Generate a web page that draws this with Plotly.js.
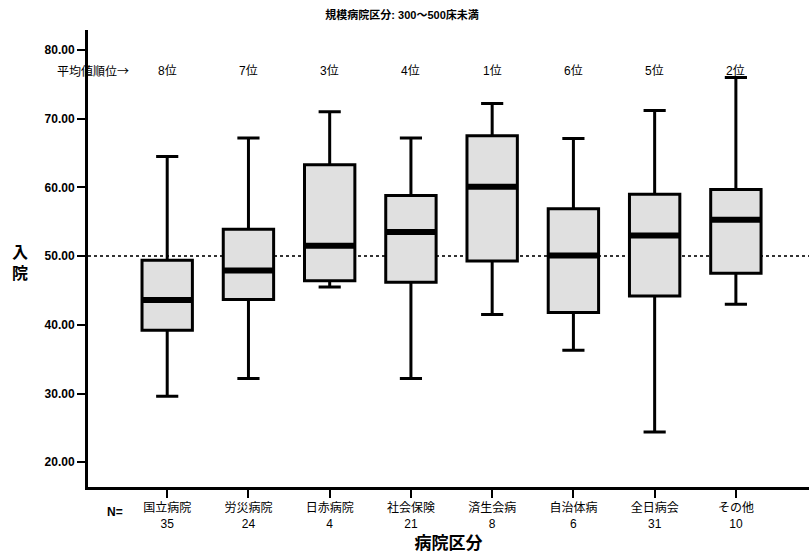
<!DOCTYPE html>
<html>
<head>
<meta charset="utf-8">
<script src="https://cdn.plot.ly/plotly-3.0.1.min.js"></script>
<style>html,body{margin:0;padding:0;background:#fff;}</style>
</head>
<body>
<div id="chart" style="width:809px;height:555px;"></div>
<script>
// ---- data ----
const categories = ["国立病院", "労災病院", "日赤病院", "社会保険", "済生会病", "自治体病", "全日病会", "その他"];
const counts = [35, 24, 4, 21, 8, 6, 31, 10];
const ranks = ["8位", "7位", "3位", "4位", "1位", "6位", "5位", "2位"];
const upperWhisker = [64.5, 67.2, 71.0, 67.2, 72.2, 67.1, 71.2, 76.0];
const q3Values     = [49.4, 53.9, 63.3, 58.8, 67.5, 56.9, 59.0, 59.7];
const medianValues = [43.6, 47.9, 51.5, 53.5, 60.1, 50.1, 53.0, 55.3];
const q1Values     = [39.2, 43.7, 46.4, 46.2, 49.3, 41.8, 44.2, 47.5];
const lowerWhisker = [29.6, 32.2, 45.5, 32.2, 41.5, 36.3, 24.4, 43.0];
const referenceLevel = 50;
const yTicks = [20, 30, 40, 50, 60, 70, 80];
const titleText = "規模病院区分: 300～500床未満";
const rankHeader = "平均値順位→";

const FONT = "Liberation Sans, Arial, 'Noto Sans CJK JP', sans-serif";
const CJK = "'Noto Sans CJK JP', sans-serif";
const idx = categories.map((c, i) => i);
const BOXW = 0.62;

const trace = {
  type: "box",
  x: idx,
  q1: q1Values,
  median: medianValues,
  q3: q3Values,
  lowerfence: lowerWhisker,
  upperfence: upperWhisker,
  width: BOXW,
  whiskerwidth: 0.44,
  boxpoints: false,
  fillcolor: "#e0e0e0",
  line: {color: "#000", width: 3},
  hoverinfo: "skip",
  showlegend: false
};

const shapes = [{
  type: "line", xref: "paper", x0: 0, x1: 1, yref: "y", y0: referenceLevel, y1: referenceLevel,
  line: {color: "#333", width: 2, dash: "dot"}, layer: "below"
}];
medianValues.forEach((m, i) => {
  shapes.push({type: "line", xref: "x", yref: "y", x0: i - BOXW / 2, x1: i + BOXW / 2, y0: m, y1: m,
    line: {color: "#000", width: 6}});
});

const annotations = ranks.map((r, i) => ({
  x: i, y: 77.0, xref: "x", yref: "y", text: r, showarrow: false, xanchor: "center",
  font: {family: FONT, size: 12, color: "#000"}
}));
annotations.push({x: -0.44, y: 77.0, xref: "x", yref: "y", text: rankHeader, xanchor: "right",
  showarrow: false, font: {family: CJK, size: 12, color: "#000"}});
annotations.push({x: 0.0236, y: -0.074, xref: "paper", yref: "paper", text: "<b>N=</b>", xanchor: "left",
  showarrow: false, font: {family: FONT, size: 12, color: "#000"}});
annotations.push({x: -0.094, y: 0.49, xref: "paper", yref: "paper", text: "<b>入</b><br><b>院</b>",
  xanchor: "center", showarrow: false, font: {family: FONT, size: 16, color: "#000"}});

const layout = {
  width: 809, height: 555,
  margin: {l: 88, r: 0, t: 30, b: 68},
  paper_bgcolor: "#fff", plot_bgcolor: "#fff",
  title: {text: "<b>" + titleText + "</b>", x: 0.497, xanchor: "center", y: 0.973, yanchor: "middle",
    font: {family: FONT, size: 11, color: "#000"}},
  xaxis: {
    type: "linear", range: [-0.975, 7.9],
    tickvals: idx, ticktext: categories.map((c, i) => c + "<br>" + counts[i]),
    ticks: "outside", ticklen: 8, tickwidth: 2, tickcolor: "#000",
    showline: true, linecolor: "#000", linewidth: 3, showgrid: false, zeroline: false,
    tickfont: {family: FONT, size: 12, color: "#000"},
    title: {text: "<b>病院区分</b>", standoff: 8, font: {family: FONT, size: 17, color: "#000"}}
  },
  yaxis: {
    range: [16.4, 82.9],
    tickvals: yTicks, ticktext: yTicks.map(v => "<b>" + v.toFixed(2) + "</b>"),
    ticks: "outside", ticklen: 8, tickwidth: 2, tickcolor: "#000",
    showline: true, linecolor: "#000", linewidth: 3, showgrid: false, zeroline: false,
    tickfont: {family: FONT, size: 12, color: "#000"}
  },
  shapes: shapes,
  annotations: annotations,
  showlegend: false
};

Plotly.newPlot("chart", [trace], layout, {displayModeBar: false, staticPlot: true});
</script>
</body>
</html>
